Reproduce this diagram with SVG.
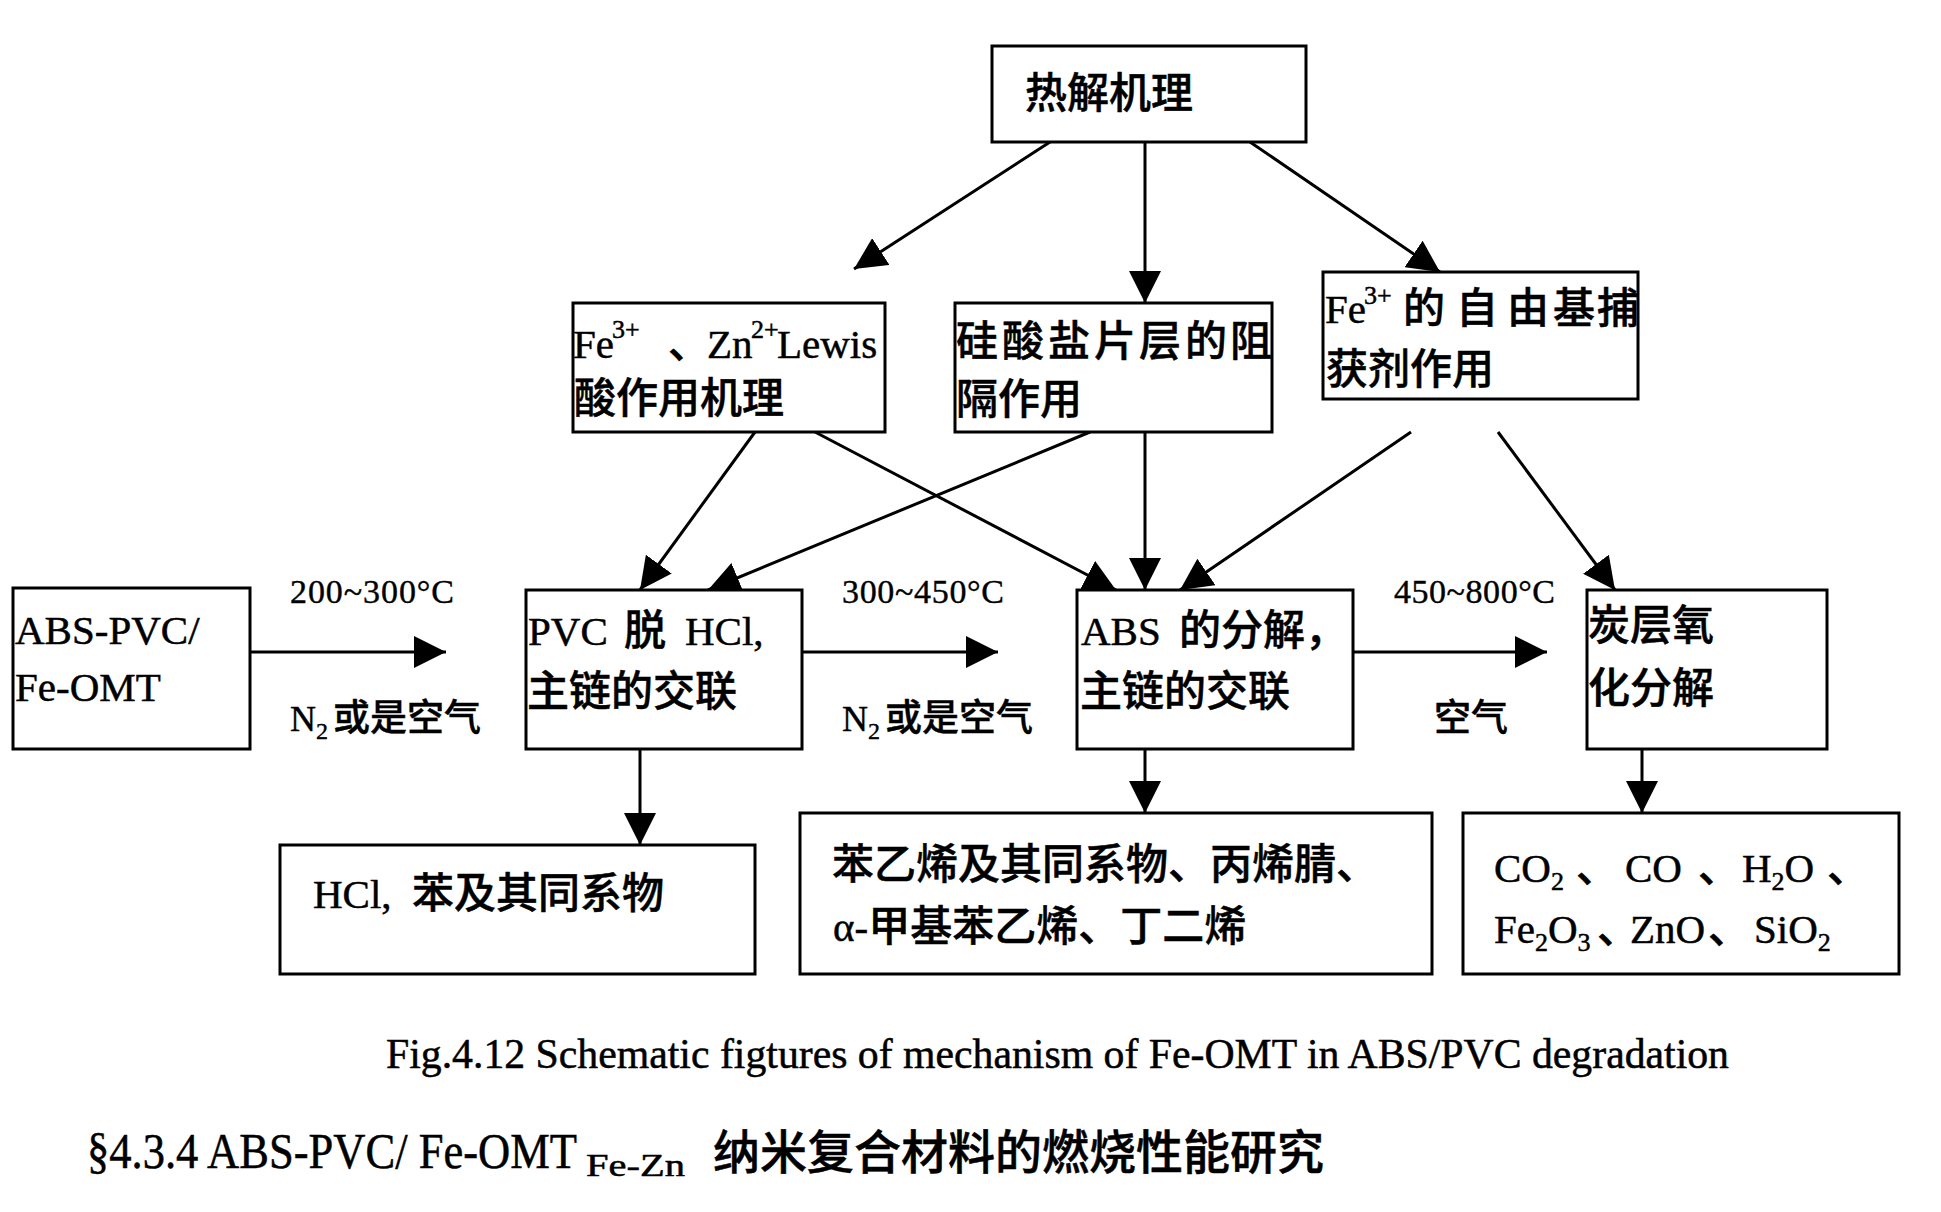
<svg xmlns="http://www.w3.org/2000/svg" width="1941" height="1212" viewBox="0 0 1941 1212">
<defs>
<style>
.box{fill:#fff;stroke:#000;stroke-width:3}
#connectors line{stroke:#000;stroke-width:3;marker-end:url(#ah)}
.t{font-family:'Liberation Serif','Noto Sans CJK SC',serif;font-size:41px;fill:#000;stroke:#000;stroke-width:0.5px}
.c{font-family:'Noto Sans CJK SC',sans-serif;font-size:42px;font-weight:500}
.sup{font-size:26px}
.sub{font-size:26px}
.lbl{font-family:'Liberation Serif','Noto Sans CJK SC',serif;font-size:34px;fill:#000;stroke:#000;stroke-width:0.4px}
.lc{font-family:'Noto Sans CJK SC',sans-serif;font-size:37px;font-weight:500}
</style>
<marker id="ah" markerUnits="userSpaceOnUse" viewBox="0 0 32 32" refX="32" refY="16" markerWidth="32" markerHeight="32" orient="auto"><path d="M0,0 L32,16 L0,32 z" fill="#000"/></marker>
</defs>
<rect width="1941" height="1212" fill="#fff"/>

<g id="connectors">
<line x1="1050" y1="142" x2="854" y2="269"/>
<line x1="1145" y1="142" x2="1145" y2="303"/>
<line x1="1250" y1="142" x2="1440" y2="272"/>
<line x1="755" y1="432" x2="640" y2="590"/>
<line x1="815" y1="432" x2="1116" y2="590"/>
<line x1="1090" y1="432" x2="708" y2="590"/>
<line x1="1145" y1="432" x2="1145" y2="590"/>
<line x1="1411" y1="432" x2="1180" y2="590"/>
<line x1="1498" y1="432" x2="1615" y2="590"/>
<line x1="640" y1="749" x2="640" y2="845"/>
<line x1="1145" y1="749" x2="1145" y2="813"/>
<line x1="1642" y1="749" x2="1642" y2="813"/>
<line x1="249" y1="652" x2="446" y2="652"/>
<line x1="801" y1="652" x2="998" y2="652"/>
<line x1="1353" y1="652" x2="1547" y2="652"/>
</g>

<g id="labels">
<text class="lbl" x="290" y="603" textLength="164">200~300°C</text>
<text class="lbl" y="731"><tspan x="290" style="font-size:36px">N</tspan><tspan style="font-size:24px" y="739">2</tspan><tspan class="lc" x="333" y="731">或是空气</tspan></text>
<text class="lbl" x="842" y="603" textLength="162">300~450°C</text>
<text class="lbl" y="731"><tspan x="842" style="font-size:36px">N</tspan><tspan style="font-size:24px" y="739">2</tspan><tspan class="lc" x="885" y="731">或是空气</tspan></text>
<text class="lbl" x="1394" y="603" textLength="161">450~800°C</text>
<text class="lbl" y="731"><tspan class="lc" x="1434">空气</tspan></text>
</g>

<g id="n-rejie">
<rect class="box" x="992" y="46" width="314" height="96"/>
<text class="t c" x="1025" y="108">热解机理</text>
</g>

<g id="n-lewis">
<rect class="box" x="573" y="303" width="312" height="129"/>
<text class="t" y="358"><tspan x="573">Fe</tspan><tspan class="sup" x="612" y="338">3+</tspan><tspan class="c" x="668" y="358">、</tspan><tspan x="707" y="358">Zn</tspan><tspan class="sup" x="751" y="338">2+</tspan><tspan x="777" y="358">Lewis</tspan></text>
<text class="t c" x="574" y="413">酸作用机理</text>
</g>

<g id="n-silicate">
<rect class="box" x="955" y="303" width="317" height="129"/>
<text class="t c" x="956 1002 1048 1094 1139 1185 1230" y="356">硅酸盐片层的阻</text>
<text class="t c" x="956" y="414">隔作用</text>
</g>

<g id="n-radical">
<rect class="box" x="1323" y="272" width="315" height="127"/>
<text class="t" y="323"><tspan x="1325">Fe</tspan><tspan class="sup" x="1364" y="304">3+</tspan><tspan class="c" x="1403 1456 1507 1553 1597" y="323">的自由基捕</tspan></text>
<text class="t c" x="1326" y="384">获剂作用</text>
</g>

<g id="n-abspvc">
<rect class="box" x="13" y="588" width="237" height="161"/>
<text class="t" x="15" y="644">ABS-PVC/</text>
<text class="t" x="15" y="701">Fe-OMT</text>
</g>

<g id="n-pvc">
<rect class="box" x="526" y="590" width="276" height="159"/>
<text class="t" y="645"><tspan x="528">PVC</tspan><tspan class="c" x="624">脱</tspan><tspan x="685">HCl,</tspan></text>
<text class="t c" x="527" y="706">主链的交联</text>
</g>

<g id="n-abs">
<rect class="box" x="1077" y="590" width="276" height="159"/>
<text class="t" y="645"><tspan x="1081">ABS</tspan><tspan class="c" x="1179">的分解，</tspan></text>
<text class="t c" x="1080" y="706">主链的交联</text>
</g>

<g id="n-char">
<rect class="box" x="1587" y="590" width="240" height="159"/>
<text class="t c" x="1588" y="640">炭层氧</text>
<text class="t c" x="1588" y="703">化分解</text>
</g>

<g id="n-hcl">
<rect class="box" x="280" y="845" width="475" height="129"/>
<text class="t" y="908"><tspan x="313">HCl,</tspan><tspan class="c" x="412">苯及其同系物</tspan></text>
</g>

<g id="n-styrene">
<rect class="box" x="800" y="813" width="632" height="161"/>
<text class="t c" x="832" y="879">苯乙烯及其同系物、丙烯腈、</text>
<text class="t" y="941"><tspan x="833">α-</tspan><tspan class="c">甲基苯乙烯、丁二烯</tspan></text>
</g>

<g id="n-gases">
<rect class="box" x="1463" y="813" width="436" height="161"/>
<text class="t" y="882"><tspan x="1494">CO</tspan><tspan class="sub" y="890">2</tspan><tspan class="c" x="1576" y="882">、</tspan><tspan x="1625" y="882">CO</tspan><tspan class="c" x="1698" y="882">、</tspan><tspan x="1742" y="882">H</tspan><tspan class="sub" y="890">2</tspan><tspan y="882">O</tspan><tspan class="c" x="1827" y="882">、</tspan></text>
<text class="t" y="943"><tspan x="1494">Fe</tspan><tspan class="sub" y="951">2</tspan><tspan y="943">O</tspan><tspan class="sub" y="951">3</tspan><tspan class="c" x="1597" y="943">、</tspan><tspan x="1630" y="943">ZnO</tspan><tspan class="c" x="1708" y="943">、</tspan><tspan x="1754" y="943">SiO</tspan><tspan class="sub" y="951">2</tspan></text>
</g>

<g id="caption">
<text class="t" x="386" y="1068" style="font-size:41.5px" textLength="1343" lengthAdjust="spacingAndGlyphs">Fig.4.12 Schematic figtures of mechanism of Fe-OMT in ABS/PVC degradation</text>
<text class="t" y="1168"><tspan x="87" style="font-size:50px" textLength="490" lengthAdjust="spacingAndGlyphs">§4.3.4 ABS-PVC/ Fe-OMT</tspan><tspan x="586" y="1176" style="font-size:32px" textLength="99" lengthAdjust="spacingAndGlyphs">Fe-Zn</tspan><tspan class="c" x="713" y="1169" style="font-size:47px">纳米复合材料的燃烧性能研究</tspan></text>
</g>
</svg>
